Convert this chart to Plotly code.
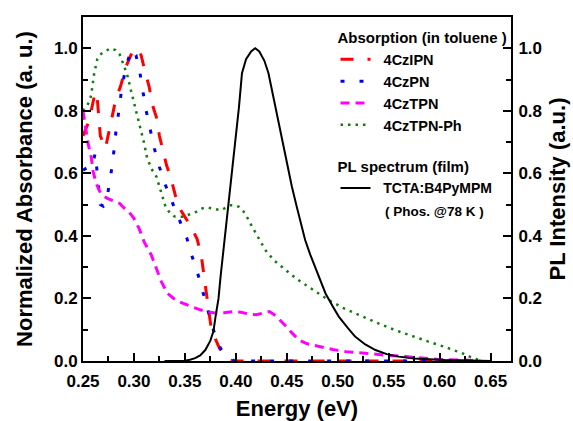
import plotly.graph_objects as go

# ---- data ----
ipn_x = [0.25, 0.255, 0.258, 0.262, 0.264, 0.265, 0.267, 0.272, 0.276, 0.279, 0.282, 0.287, 0.292, 0.297,
         0.30, 0.304, 0.307, 0.311, 0.315, 0.318, 0.322, 0.325, 0.328, 0.332, 0.336, 0.341, 0.346, 0.351,
         0.356, 0.362, 0.366, 0.368, 0.37, 0.372, 0.374, 0.376, 0.38, 0.384, 0.389, 0.393, 0.397, 0.45,
         0.52, 0.58, 0.62]
ipn_y = [0.72, 0.76, 0.80, 0.86, 0.84, 0.79, 0.72, 0.68, 0.74, 0.78, 0.834, 0.88, 0.94, 0.978,
         1.0, 0.99, 0.978, 0.924, 0.876, 0.82, 0.78, 0.72, 0.68, 0.626, 0.587, 0.525, 0.482, 0.455,
         0.43, 0.39, 0.339, 0.29, 0.243, 0.195, 0.14, 0.10, 0.07, 0.04, 0.02, 0.005, 0.0, 0.0,
         0.0, 0.0, 0.0]

pn_x = [0.25, 0.255, 0.259, 0.262, 0.264, 0.267, 0.27, 0.273, 0.276, 0.279, 0.281, 0.283, 0.286, 0.288,
        0.292, 0.297, 0.302, 0.306, 0.309, 0.312, 0.316, 0.32, 0.325, 0.331, 0.338, 0.345, 0.352, 0.357,
        0.363, 0.368, 0.373, 0.378, 0.385, 0.392, 0.399, 0.45, 0.52, 0.58, 0.62]
pn_y = [0.61, 0.62, 0.62, 0.665, 0.60, 0.50, 0.495, 0.51, 0.57, 0.632, 0.693, 0.754, 0.815, 0.876,
        0.935, 0.996, 0.978, 0.919, 0.858, 0.80, 0.74, 0.68, 0.62, 0.562, 0.504, 0.447, 0.392, 0.335,
        0.275, 0.216, 0.158, 0.099, 0.04, 0.01, 0.0, 0.0, 0.0, 0.0, 0.0]

tpn_x = [0.25, 0.253, 0.255, 0.258, 0.26, 0.263, 0.266, 0.269, 0.274, 0.28, 0.286, 0.29, 0.295, 0.30,
         0.305, 0.31, 0.317, 0.322, 0.327, 0.333, 0.339, 0.344, 0.351, 0.357, 0.364, 0.371, 0.378, 0.384,
         0.39, 0.398, 0.405, 0.413, 0.42, 0.428, 0.433, 0.439, 0.444, 0.449, 0.455, 0.462, 0.47, 0.481,
         0.495, 0.508, 0.52, 0.534, 0.55, 0.566, 0.58, 0.599, 0.625, 0.64]
tpn_y = [0.80, 0.743, 0.695, 0.653, 0.605, 0.568, 0.545, 0.53, 0.52, 0.512, 0.504, 0.49, 0.477, 0.456,
         0.424, 0.381, 0.339, 0.296, 0.253, 0.216, 0.20, 0.19, 0.18, 0.173, 0.165, 0.158, 0.154, 0.152,
         0.155, 0.158, 0.156, 0.15, 0.148, 0.154, 0.158, 0.145, 0.13, 0.112, 0.09, 0.067, 0.055, 0.046,
         0.037, 0.03, 0.026, 0.022, 0.018, 0.014, 0.01, 0.005, 0.003, 0.0]

tpnph_x = [0.25, 0.253, 0.256, 0.258, 0.261, 0.264, 0.268, 0.271, 0.277, 0.282, 0.286, 0.29, 0.294, 0.297,
           0.30, 0.304, 0.307, 0.31, 0.313, 0.318, 0.322, 0.326, 0.331, 0.336, 0.34, 0.348, 0.355, 0.361,
           0.367, 0.372, 0.379, 0.385, 0.39, 0.395, 0.40, 0.403, 0.407, 0.41, 0.416, 0.423, 0.429, 0.437,
           0.447, 0.459, 0.47, 0.48, 0.491, 0.505, 0.524, 0.54, 0.556, 0.572, 0.589, 0.605, 0.622, 0.632,
           0.638, 0.642]
tpnph_y = [0.80, 0.812, 0.828, 0.85, 0.92, 0.965, 0.983, 0.988, 1.0, 0.994, 0.98, 0.946, 0.908, 0.866,
           0.828, 0.78, 0.743, 0.696, 0.648, 0.61, 0.59, 0.546, 0.493, 0.47, 0.462, 0.461, 0.47, 0.477,
           0.488, 0.491, 0.486, 0.482, 0.49, 0.498, 0.497, 0.493, 0.48, 0.466, 0.429, 0.387, 0.355, 0.323,
           0.296, 0.264, 0.24, 0.218, 0.195, 0.17, 0.142, 0.12, 0.099, 0.08, 0.062, 0.045, 0.025, 0.01,
           0.003, 0.0]

pl_x = [0.33, 0.34, 0.35, 0.355, 0.36, 0.365, 0.37, 0.375, 0.378, 0.38, 0.383, 0.385, 0.388, 0.392,
        0.395, 0.398, 0.40, 0.403, 0.406, 0.41, 0.415, 0.419, 0.423, 0.428, 0.432, 0.437, 0.442, 0.448,
        0.455, 0.46, 0.468, 0.473, 0.478, 0.483, 0.488, 0.495, 0.501, 0.51, 0.517, 0.527, 0.537, 0.548,
        0.56, 0.575, 0.59, 0.605, 0.621, 0.64, 0.65]
pl_y = [0.0, 0.0, 0.001, 0.004, 0.009, 0.018, 0.035, 0.065, 0.095, 0.14, 0.2, 0.27, 0.36, 0.48,
        0.56, 0.67, 0.72, 0.81, 0.92, 0.965, 0.99, 1.0, 0.99, 0.96, 0.92, 0.84, 0.76, 0.67,
        0.557, 0.49, 0.387, 0.34, 0.30, 0.255, 0.216, 0.175, 0.142, 0.105, 0.078, 0.053, 0.035, 0.022,
        0.014, 0.008, 0.005, 0.003, 0.002, 0.001, 0.0]

x_ticks = [0.25, 0.30, 0.35, 0.40, 0.45, 0.50, 0.55, 0.60, 0.65]
y_ticks = [0.0, 0.2, 0.4, 0.6, 0.8, 1.0]

FONT = "Liberation Sans, Arial, sans-serif"
PAD = "\u00a0\u00a0"

fig = go.Figure()
fig.add_trace(go.Scatter(x=ipn_x, y=ipn_y, mode="lines", name=PAD + "4CzIPN", legend="legend",
                         line=dict(color="#ff0000", width=3, dash="13px,14px")))
fig.add_trace(go.Scatter(x=pn_x, y=pn_y, mode="lines", name=PAD + "4CzPN", legend="legend",
                         line=dict(color="#0000f0", width=3, dash="4px,15px")))
fig.add_trace(go.Scatter(x=tpn_x, y=tpn_y, mode="lines", name=PAD + "4CzTPN", legend="legend",
                         line=dict(color="#ff00ff", width=3, dash="9px,6px")))
fig.add_trace(go.Scatter(x=tpnph_x, y=tpnph_y, mode="lines", name=PAD + "4CzTPN-Ph", legend="legend",
                         line=dict(color="#107d10", width=2.5, dash="2.5px,5px")))
fig.add_trace(go.Scatter(x=pl_x, y=pl_y, mode="lines", name=PAD + "TCTA:B4PyMPM", legend="legend2",
                         yaxis="y2", line=dict(color="black", width=2)))

axis_common = dict(
    showline=True, linewidth=2, linecolor="black", ticks="inside", ticklen=8, tickwidth=2,
    tickcolor="black", showgrid=False, zeroline=False, automargin=False,
    tickfont=dict(family=FONT, size=17, color="black", weight="bold"),
)
TITLE_FONT = dict(family=FONT, size=22, color="black", weight="bold")

fig.update_layout(
    width=573, height=421,
    margin=dict(l=83, r=62, t=17, b=60, autoexpand=False),
    plot_bgcolor="white", paper_bgcolor="white",
    font=dict(family=FONT, color="black"),
    xaxis=dict(
        range=[0.25, 0.67], tickvals=x_ticks, tickformat=".2f", mirror=True, ticklabelstandoff=4,
        minor=dict(dtick=0.025, tick0=0.25, ticks="inside", ticklen=5, tickwidth=2, tickcolor="black"),
        title=dict(text="Energy (eV)", font=TITLE_FONT, standoff=10),
        **axis_common,
    ),
    yaxis=dict(
        range=[0, 1.1], tickvals=y_ticks, tickformat=".1f",
        minor=dict(dtick=0.1, tick0=0, ticks="inside", ticklen=5, tickwidth=2, tickcolor="black"),
        **axis_common,
    ),
    yaxis2=dict(
        range=[0, 1.1], tickvals=y_ticks, tickformat=".1f", overlaying="y", side="right",
        ticklabelstandoff=2,
        minor=dict(dtick=0.1, tick0=0, ticks="inside", ticklen=5, tickwidth=2, tickcolor="black"),
        title=dict(text="PL Intensity (a.u.)", font=TITLE_FONT, standoff=8),
        **axis_common,
    ),
    legend=dict(
        x=0.59, y=0.98, xanchor="left", yanchor="top", bgcolor="rgba(0,0,0,0)",
        title=dict(text="Absorption (in toluene )",
                   font=dict(family=FONT, size=15, color="black", weight="bold")),
        font=dict(family=FONT, size=14.5, color="black", weight="bold"),
        tracegroupgap=0, itemwidth=30,
    ),
    legend2=dict(
        x=0.59, y=0.605, xanchor="left", yanchor="top", bgcolor="rgba(0,0,0,0)",
        title=dict(text="PL spectrum (film)",
                   font=dict(family=FONT, size=15, color="black", weight="bold")),
        font=dict(family=FONT, size=14, color="black", weight="bold"),
    ),
    annotations=[
        dict(text="Normalized Absorbance (a. u.)", xref="paper", yref="paper",
             x=-0.138, y=0.5, xanchor="center", yanchor="middle", textangle=-90,
             showarrow=False, font=TITLE_FONT),
        dict(text="( Phos. @78 K )", xref="paper", yref="paper", x=0.822, y=0.436,
             xanchor="center", yanchor="middle",
             showarrow=False, font=dict(family=FONT, size=13.5, color="black", weight="bold")),
    ],
)

fig.write_html("out.html")
